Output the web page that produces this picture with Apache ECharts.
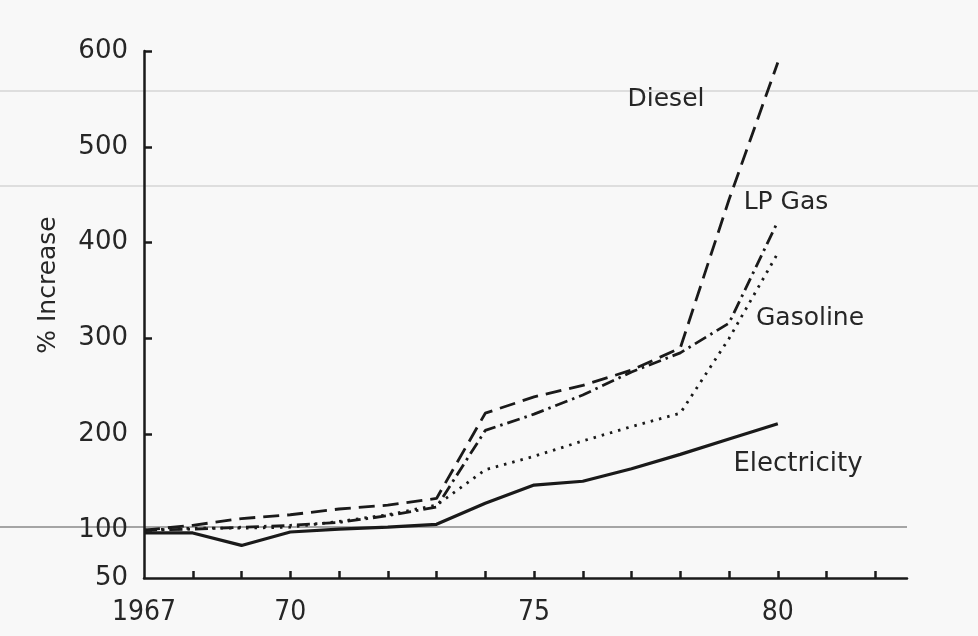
<!DOCTYPE html>
<html>
<head>
<meta charset="utf-8">
<script src="https://cdn.jsdelivr.net/npm/echarts@6/dist/echarts.min.js"></script>
<style>
html,body{margin:0;padding:0;background:#f8f8f8;}
#c{width:978px;height:636px;}
</style>
</head>
<body>
<div id="c"></div>
<script>
// ---- data ----
const years = [1967, 1968, 1969, 1970, 1971, 1972, 1973, 1974, 1975, 1976, 1977, 1978, 1979, 1980];
const electricity = [97, 97, 84, 98, 101, 103, 106, 128, 147, 151, 164, 179, 195, 211];
const diesel      = [100, 105, 112, 116, 122, 126, 133, 222, 239, 251, 267, 290, 445, 588];
const lpGas       = [100, 101, 103, 105, 108, 115, 124, 204, 221, 241, 265, 285, 316, 422];
const gasoline    = [100, 102, 102, 103, 109, 116, 126, 163, 177, 193, 208, 222, 300, 389];
const yTickLabels = [50, 100, 200, 300, 400, 500, 600];
const yTickMarks  = [100, 200, 300, 400, 500, 600];
const xTickLabels = [1967, 1970, 1975, 1980];
const xTickMarks  = [1968, 1969, 1970, 1971, 1972, 1973, 1974, 1975, 1976, 1977, 1978, 1979, 1980, 1981, 1982];
const seriesNames = ['Diesel', 'LP Gas', 'Gasoline', 'Electricity'];

const ink = '#1a1a1a';
const txt = '#262626';
const pair = (arr) => years.map((y, i) => [y, arr[i]]);

const chart = echarts.init(document.getElementById('c'), null, {renderer: 'canvas'});
chart.setOption({
  backgroundColor: '#f8f8f8',
  animation: false,
  grid: {left: 144, top: 51, right: 71, bottom: 58, containLabel: false},
  xAxis: {
    type: 'value', min: 1967, max: 1982.65,
    axisLine: {show: true, lineStyle: {color: ink, width: 2.5}},
    axisTick: {show: true, inside: true, length: 7, lineStyle: {color: ink, width: 2.5}, customValues: xTickMarks},
    axisLabel: {
      customValues: xTickLabels, margin: 21, color: txt,
      fontFamily: "'DejaVu Sans Condensed', 'Liberation Sans Narrow', 'DejaVu Sans', sans-serif",
      fontSize: 28,
      formatter: (v) => v === 1967 ? '1967' : String(v % 100)
    },
    splitLine: {show: false}
  },
  yAxis: {
    type: 'value', min: 50, max: 600,
    axisLine: {show: true, lineStyle: {color: ink, width: 2.5}},
    axisTick: {show: true, inside: true, length: 8, lineStyle: {color: ink, width: 2.5}, customValues: yTickMarks},
    axisLabel: {
      customValues: yTickLabels, margin: 16, color: txt,
      fontFamily: "'DejaVu Sans', sans-serif", fontSize: 26
    },
    splitLine: {show: false}
  },
  series: [
    {name: seriesNames[0], type: 'line', data: pair(diesel), showSymbol: false,
     lineStyle: {color: ink, width: 2.8, type: [16, 8]}},
    {name: seriesNames[1], type: 'line', data: pair(lpGas), showSymbol: false,
     lineStyle: {color: ink, width: 2.8, type: [13, 5, 2.5, 5]}},
    {name: seriesNames[2], type: 'line', data: pair(gasoline), showSymbol: false,
     lineStyle: {color: ink, width: 2.8, type: [2.5, 6]}},
    {name: seriesNames[3], type: 'line', data: pair(electricity), showSymbol: false,
     lineStyle: {color: ink, width: 3.2, type: 'solid'}}
  ],
  graphic: [
    {type: 'line', silent: true, z: -1, shape: {x1: 0, y1: 91, x2: 978, y2: 91}, style: {stroke: '#c4c4c4', lineWidth: 1.2}},
    {type: 'line', silent: true, z: -1, shape: {x1: 0, y1: 186, x2: 978, y2: 186}, style: {stroke: '#c4c4c4', lineWidth: 1.2}},
    {type: 'line', silent: true, z: -1, shape: {x1: 0, y1: 527, x2: 907, y2: 527}, style: {stroke: '#8a8a8a', lineWidth: 1.5}},
    {type: 'text', x: 48, y: 285, rotation: Math.PI / 2,
     style: {text: '% Increase', fontFamily: "'DejaVu Sans', sans-serif", fontSize: 25, fill: txt, align: 'center', verticalAlign: 'middle'}},
    {type: 'text', x: 666, y: 99,
     style: {text: seriesNames[0], fontFamily: "'DejaVu Sans', sans-serif", fontSize: 25, fill: txt, align: 'center', verticalAlign: 'middle'}},
    {type: 'text', x: 786, y: 202,
     style: {text: seriesNames[1], fontFamily: "'DejaVu Sans', sans-serif", fontSize: 25, fill: txt, align: 'center', verticalAlign: 'middle'}},
    {type: 'text', x: 810, y: 318,
     style: {text: seriesNames[2], fontFamily: "'DejaVu Sans', sans-serif", fontSize: 25, fill: txt, align: 'center', verticalAlign: 'middle'}},
    {type: 'text', x: 798, y: 464,
     style: {text: seriesNames[3], fontFamily: "'DejaVu Sans', sans-serif", fontSize: 26, fill: txt, align: 'center', verticalAlign: 'middle'}}
  ]
});
</script>
</body>
</html>
